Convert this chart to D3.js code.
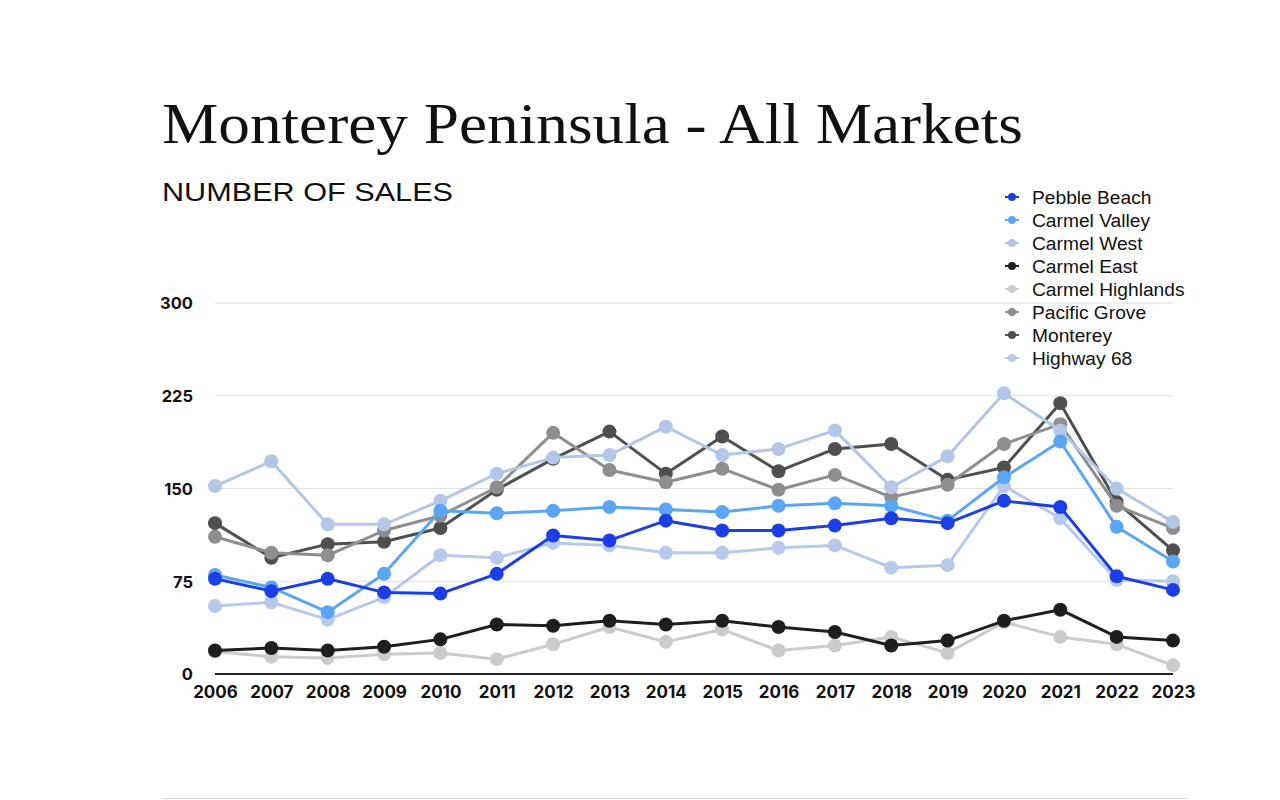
<!DOCTYPE html>
<html><head><meta charset="utf-8">
<script src="https://cdn.jsdelivr.net/npm/d3@7"></script>
<style>
html,body{margin:0;padding:0;background:#fff;}
svg{display:block;}
</style></head>
<body>
<svg id="chart" width="1280" height="800"></svg>
<script>
const years = [2006,2007,2008,2009,2010,2011,2012,2013,2014,2015,2016,2017,2018,2019,2020,2021,2022,2023];
const yTicks = [0,75,150,225,300];
const seriesNames = ["Pebble Beach","Carmel Valley","Carmel West","Carmel East","Carmel Highlands","Pacific Grove","Monterey","Highway 68"];
const seriesColors = ["#1b3fe4","#5aa5f4","#b2c6e8","#1e1e1e","#cbcbcb","#8e8e8e","#4f4f4f","#b6c9ea"];
const pebbleBeach     = [77,67,77,66,65,81,112,108,124,116,116,120,126,122,140,135,79,68];
const carmelValley    = [80,70,50,81,132,130,132,135,133,131,136,138,136,124,159,188,119,91];
const carmelWest      = [152,172,121,121,140,162,175,177,200,177,182,197,151,176,227,197,150,123];
const carmelEast      = [19,21,19,22,28,40,39,43,40,43,38,34,23,27,43,52,30,27];
const carmelHighlands = [18,14,13,16,17,12,24,38,26,36,19,23,30,17,42,30,24,7];
const pacificGrove    = [111,98,96,116,128,151,195,165,155,166,149,161,143,153,186,202,136,118];
const monterey        = [122,94,105,107,118,149,174,196,162,192,164,182,186,157,167,219,139,100];
const highway68       = [55,58,44,62,96,94,106,104,98,98,102,104,86,88,152,126,76,75];
const seriesValues = [pebbleBeach,carmelValley,carmelWest,carmelEast,carmelHighlands,pacificGrove,monterey,highway68];

const svg = d3.select("#chart");
const x = d3.scalePoint().domain(years).range([215,1173]);
const y = d3.scaleLinear().domain([0,300]).range([674,303]);

// title
svg.append("text").attr("x",162).attr("y",143)
  .attr("font-family","'Liberation Serif','DejaVu Serif',serif")
  .attr("font-size",58).attr("fill","#111")
  .attr("textLength",861).attr("lengthAdjust","spacingAndGlyphs")
  .text("Monterey Peninsula - All Markets");
svg.append("text").attr("x",162).attr("y",201)
  .attr("font-family","'Liberation Sans',Arial,sans-serif")
  .attr("font-size",26).attr("fill","#111")
  .attr("textLength",291).attr("lengthAdjust","spacingAndGlyphs")
  .text("NUMBER OF SALES");

// gridlines
svg.append("g").selectAll("line").data(yTicks.filter(d=>d>0)).join("line")
  .attr("x1",215).attr("x2",1173).attr("y1",d=>y(d)).attr("y2",d=>y(d))
  .attr("stroke","#e2e2e2").attr("stroke-width",1);

// y axis labels
const yAxis = svg.append("g").attr("transform","translate(193,0)")
  .call(d3.axisLeft(y).tickValues(yTicks).tickSize(0).tickPadding(0));
yAxis.select(".domain").remove();
yAxis.selectAll("text").attr("font-family","Inter,'Open Sans',sans-serif")
  .attr("font-weight",700).attr("font-size",16.5).attr("fill","#111").attr("dy","0.35em");

// baseline
svg.append("line").attr("x1",215).attr("x2",1173).attr("y1",y(0)).attr("y2",y(0))
  .attr("stroke","#222").attr("stroke-width",2);

// x axis labels
const xAxis = svg.append("g").attr("transform","translate(0,698)")
  .call(d3.axisBottom(x).tickSize(0).tickPadding(0));
xAxis.select(".domain").remove();
xAxis.selectAll("text").attr("font-family","Inter,'Open Sans',sans-serif")
  .attr("font-weight",700).attr("font-size",17).attr("fill","#111").attr("dy","0");

// series (draw reverse so first is on top)
const line = d3.line().x((d,i)=>x(years[i])).y(d=>y(d));
const order = d3.range(seriesNames.length).reverse();
order.forEach(i=>{
  const g = svg.append("g");
  g.append("path").datum(seriesValues[i]).attr("d",line)
    .attr("fill","none").attr("stroke",seriesColors[i]).attr("stroke-width",3)
    .attr("stroke-linejoin","round");
  g.selectAll("circle").data(seriesValues[i]).join("circle")
    .attr("cx",(d,j)=>x(years[j])).attr("cy",d=>y(d)).attr("r",7)
    .attr("fill",seriesColors[i]);
});

// legend
const lg = svg.append("g").attr("transform","translate(1005,197)");
const items = lg.selectAll("g").data(seriesNames).join("g")
  .attr("transform",(d,i)=>"translate(0,"+(i*23)+")");
items.append("line").attr("x1",0).attr("x2",14).attr("y1",0).attr("y2",0)
  .attr("stroke",(d,i)=>seriesColors[i]).attr("stroke-width",2);
items.append("circle").attr("cx",7).attr("cy",0).attr("r",4).attr("fill",(d,i)=>seriesColors[i]);
items.append("text").attr("x",27).attr("y",0).attr("dy","0.36em")
  .attr("font-family","'Liberation Sans',Arial,sans-serif").attr("font-size",19.2)
  .attr("fill","#111").text(d=>d);

// bottom rule
svg.append("line").attr("x1",162).attr("x2",1188).attr("y1",798.5).attr("y2",798.5)
  .attr("stroke","#e0e0e0").attr("stroke-width",1);
</script>
</body></html>
